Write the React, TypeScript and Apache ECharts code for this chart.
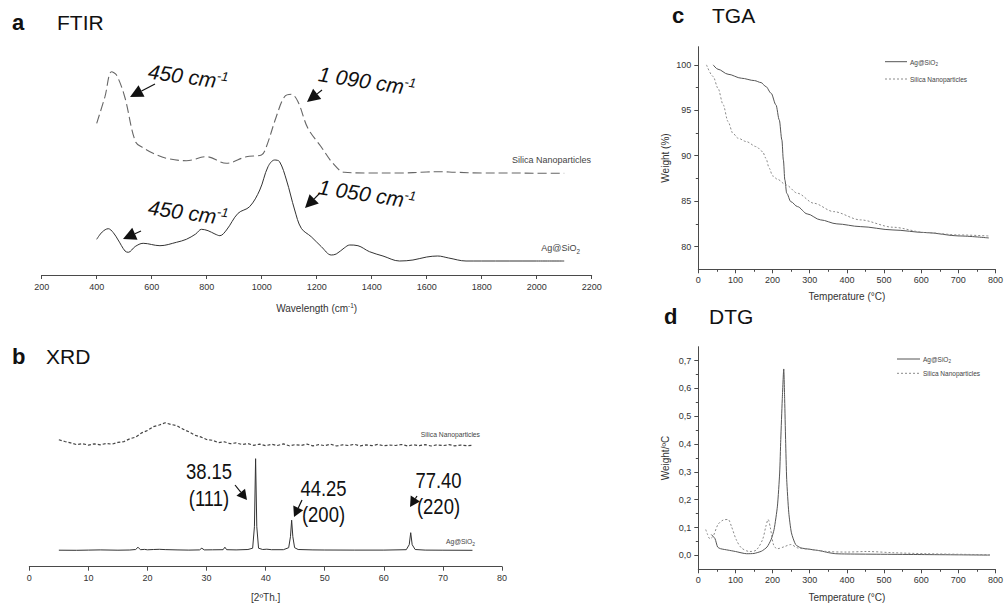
import React, { useEffect, useRef } from 'react';
import * as echarts from 'echarts';

const FONT = '"Liberation Sans", Arial, Helvetica, sans-serif';
const NARROW = '"Liberation Sans Narrow", "Arial Narrow", "Liberation Sans", sans-serif';

// ---------- (a) FTIR (relative transmittance, arbitrary units) ----------
const ftirSilicaWavenumber = [400, 430, 454, 472, 502, 541, 570, 605, 654, 726, 799, 872, 944, 999, 1017, 1053, 1083, 1108, 1132, 1168, 1216, 1259, 1301, 1400, 1500, 1600, 1650, 1700, 1800, 1900, 2000, 2100];
const ftirSilicaSignal = [151.7, 178.3, 203.3, 200, 178, 133.3, 127, 121.7, 116.7, 114.3, 118.3, 111.7, 118.3, 120, 128.3, 158.3, 178.3, 180.7, 173.3, 146.7, 128.3, 111.7, 102.7, 102, 102, 103, 103.3, 102.8, 102, 102, 101.8, 101.7];
const ftirAgWavenumber = [400, 420, 442, 460, 478, 503, 515, 540, 569, 630, 690, 726, 760, 781, 805, 830, 848, 872, 914, 956, 993, 1023, 1047, 1065, 1090, 1120, 1144, 1180, 1217, 1253, 1271, 1300, 1320, 1350, 1392, 1441, 1501, 1550, 1600, 1640, 1680, 1743, 1800, 1900, 2000, 2100];
const ftirAgSignal = [35.7, 43, 46.3, 42.5, 35, 24, 22.7, 28.5, 31.7, 29.3, 32.7, 35.7, 41, 45.7, 44.3, 41, 39.3, 45, 61.7, 68.3, 85, 108.3, 115, 113.3, 95, 65, 46.7, 38.3, 28.3, 20, 21, 27, 30, 29.3, 23.3, 19, 14, 15, 18, 19, 17, 14, 14, 14, 14, 14];

// ---------- (b) XRD (arbitrary counts) ----------
const xrdSilicaAngle = [5, 6, 7, 8, 9, 10, 11, 12, 13, 14, 15, 16, 17, 18, 19, 20, 21, 22, 23, 24, 25, 26, 27, 28, 29, 30, 31, 32, 33, 34, 35, 36, 37, 38, 39, 40, 41, 42, 43, 44, 45, 46, 47, 48, 49, 50, 51, 52, 53, 54, 55, 56, 57, 58, 59, 60, 61, 62, 63, 64, 65, 66, 67, 68, 69, 70, 71, 72, 73, 74, 75];
const xrdSilicaCounts = [127.0, 125.2, 123.8, 122.1, 123.0, 121.6, 122.8, 121.9, 123.2, 122.5, 124.3, 125.1, 127.9, 129.6, 133.8, 136.2, 140.1, 141.7, 143.9, 142.2, 141.0, 137.6, 134.9, 131.5, 129.8, 127.2, 126.4, 124.1, 124.9, 123.0, 123.8, 122.2, 123.1, 121.4, 122.6, 121.0, 122.4, 121.2, 122.8, 120.9, 122.1, 121.3, 122.6, 120.8, 122.0, 121.1, 122.5, 120.7, 121.9, 121.2, 122.4, 120.8, 121.8, 121.0, 122.3, 120.9, 121.7, 121.2, 122.2, 120.8, 121.9, 121.0, 122.1, 120.7, 121.8, 121.1, 122.0, 120.9, 121.6, 121.0, 121.3];
const xrdAgAngle = [5, 8, 10, 12, 15, 17, 18, 18.4, 18.8, 19.5, 20, 21, 22, 23, 25, 27, 28.8, 29.2, 29.6, 31, 32.8, 33.1, 33.4, 35, 37, 37.8, 38.1, 38.3, 38.5, 38.8, 39.5, 40.2, 41, 43, 43.9, 44.2, 44.4, 44.6, 44.9, 45.5, 48, 50, 55, 60, 63.8, 64.3, 64.55, 64.8, 65.3, 67, 70, 75];
const xrdAgCounts = [16.5, 16.4, 16.6, 16.8, 16.5, 16.7, 17.2, 19.5, 17.0, 17.3, 16.9, 17.2, 17.4, 17.1, 16.8, 16.6, 16.8, 18.5, 16.8, 16.9, 17.0, 19.5, 17.0, 16.8, 17.2, 18.5, 40, 108, 40, 18.5, 17.2, 17.5, 17, 17, 19, 30, 46.5, 30, 19, 17.2, 16.8, 16.7, 16.6, 16.6, 17.0, 22, 34, 22, 17.2, 16.6, 16.5, 16.4];

// ---------- (c) TGA ----------
const tgaAgTemp = [40, 53, 80, 116, 151, 169, 182, 196, 209, 218, 225, 229, 233, 238, 249, 267, 293, 329, 373, 436, 524, 613, 702, 782];
const tgaAgWeight = [100, 99.52, 98.97, 98.53, 98.27, 98.05, 97.61, 96.88, 95.6, 93.94, 91.74, 89.54, 87.34, 85.87, 84.95, 84.4, 83.6, 82.94, 82.5, 82.2, 81.83, 81.54, 81.17, 80.95];
const tgaSilicaTemp = [22, 40, 53, 67, 80, 93, 107, 129, 156, 173, 182, 191, 200, 213, 236, 267, 311, 364, 436, 524, 613, 702, 782];
const tgaSilicaWeight = [100, 98.72, 97.43, 95.6, 93.76, 92.48, 91.93, 91.56, 91.0, 90.46, 89.72, 88.62, 87.78, 87.41, 86.79, 85.87, 84.77, 83.85, 82.94, 82.13, 81.54, 81.28, 81.17];
const tgaYLabels = [80, 85, 90, 95, 100];
const tgaYMinor = [82.5, 87.5, 92.5, 97.5];

// ---------- (d) DTG ----------
const dtgAgTemp = [35, 45, 52, 60, 80, 100, 130, 150, 170, 185, 196, 204, 213, 219, 222, 226, 230, 232.5, 235, 238, 243.6, 250.7, 262, 276, 300, 330, 350, 370, 400, 500, 600, 700, 785];
const dtgAgRate = [0.075, 0.06, 0.03, 0.024, 0.019, 0.014, 0.006, 0.007, 0.015, 0.03, 0.057, 0.093, 0.177, 0.296, 0.416, 0.559, 0.67, 0.559, 0.416, 0.272, 0.153, 0.081, 0.039, 0.027, 0.022, 0.016, 0.01, 0.006, 0.005, 0.004, 0.003, 0.002, 0.001];
const dtgSilicaTemp = [20, 25, 31, 40, 53, 67, 80, 89, 102, 116, 138, 156, 173, 182, 188, 194, 203, 213, 231, 249, 267, 302, 347, 400, 453, 524, 613, 700, 785];
const dtgSilicaRate = [0.093, 0.075, 0.06, 0.069, 0.111, 0.127, 0.129, 0.105, 0.057, 0.027, 0.014, 0.019, 0.057, 0.105, 0.129, 0.099, 0.036, 0.024, 0.031, 0.039, 0.027, 0.0215, 0.014, 0.012, 0.014, 0.0096, 0.006, 0.004, 0.0024];
const dtgYLabels = [0, 0.1, 0.2, 0.3, 0.4, 0.5, 0.6, 0.7];
const dtgYMinor = [0.05, 0.15, 0.25, 0.35, 0.45, 0.55, 0.65];

const zip = (xs: number[], ys: number[]) => xs.map((x, i) => [x, ys[i]]);

const AXIS_COLOR = '#4a4a4a';
const LABEL_COLOR = '#333';

function txt(x: number, y: number, text: string, o: any = {}) {
  const align = o.align || 'left';
  const vAlign = o.verticalAlign || 'middle';
  return {
    type: 'text',
    x,
    y,
    rotation: o.rotation || 0,
    scaleX: o.scaleX || 1,
    z: 10,
    style: {
      text,
      fill: o.fill || '#111',
      fontSize: o.fontSize || 10,
      fontFamily: o.fontFamily || FONT,
      fontWeight: o.fontWeight || 'normal',
      fontStyle: o.fontStyle || 'normal',
      lineHeight: o.lineHeight,
      align,
      verticalAlign: vAlign,
      textAlign: align,
      textVerticalAlign: vAlign,
      rich: o.rich,
    },
  };
}

function arrow(x1: number, y1: number, x2: number, y2: number, head = 12, half = 6) {
  const dx = x2 - x1;
  const dy = y2 - y1;
  const L = Math.hypot(dx, dy);
  const ux = dx / L;
  const uy = dy / L;
  const bx = x2 - ux * head;
  const by = y2 - uy * head;
  return [
    { type: 'line', z: 10, shape: { x1, y1, x2: bx, y2: by }, style: { stroke: '#111', lineWidth: 1.2 } },
    {
      type: 'polygon',
      z: 10,
      shape: { points: [[x2, y2], [bx - uy * half, by + ux * half], [bx + uy * half, by - ux * half]] },
      style: { fill: '#111' },
    },
  ];
}

function hline(x1: number, x2: number, y: number, stroke: string, dash?: number[]) {
  return { type: 'line', z: 10, shape: { x1, y1: y, x2, y2: y }, style: { stroke, lineWidth: 1, lineDash: dash } };
}

const subRich = (size: number) => ({
  n: { fontSize: size, fontFamily: FONT, fill: '#444', lineHeight: size + 3 },
  s: { fontSize: size * 0.7, fontFamily: FONT, fill: '#444', lineHeight: size * 0.7, verticalAlign: 'bottom' },
});

const supRich = (size: number, italic = false) => ({
  n: { fontSize: size, fontFamily: FONT, fill: '#111', fontStyle: italic ? 'italic' : 'normal', lineHeight: size + 2 },
  s: { fontSize: size * 0.62, fontFamily: FONT, fill: '#111', fontStyle: italic ? 'italic' : 'normal', lineHeight: size * 0.62, verticalAlign: 'top' },
});

const plain = (v: number) => String(v);

function baseXAxis(gridIndex: number, o: any) {
  return {
    type: 'value',
    gridIndex,
    splitLine: { show: false },
    axisLine: { show: true, onZero: false, lineStyle: { color: AXIS_COLOR, width: 1 } },
    axisTick: { show: true, length: 4, lineStyle: { color: AXIS_COLOR } },
    axisLabel: { fontSize: 9, color: LABEL_COLOR, fontFamily: FONT, margin: 7, formatter: plain },
    nameLocation: 'middle',
    nameTextStyle: { fontSize: 10, color: LABEL_COLOR, fontFamily: FONT },
    ...o,
  };
}

const option: any = {
  animation: false,
  backgroundColor: '#ffffff',
  textStyle: { fontFamily: FONT },
  grid: [
    { left: 41.7, top: 55, width: 550, height: 220 },
    { left: 29.3, top: 406.7, width: 472.7, height: 160 },
    { left: 698.3, top: 46.7, width: 299.2, height: 222.6 },
    { left: 698.3, top: 346.7, width: 299.2, height: 222.6 },
  ],
  xAxis: [
    baseXAxis(0, {
      min: 200,
      max: 2200,
      interval: 200,
      name: '{n|Wavelength (cm}{s|-1}{n|)}',
      nameGap: 27,
      nameTextStyle: {
        color: LABEL_COLOR,
        rich: {
          n: { fontSize: 10, fontFamily: FONT, color: LABEL_COLOR, lineHeight: 12 },
          s: { fontSize: 6.5, fontFamily: FONT, color: LABEL_COLOR, lineHeight: 6.5, verticalAlign: 'top' },
        },
      },
    }),
    baseXAxis(1, {
      min: 0,
      max: 80,
      interval: 10,
      name: '[2ºTh.]',
      nameGap: 26,
      axisLabel: { fontSize: 9, color: LABEL_COLOR, fontFamily: NARROW, margin: 7, formatter: plain },
      nameTextStyle: { fontSize: 10, color: LABEL_COLOR, fontFamily: NARROW },
    }),
    baseXAxis(2, {
      min: 0,
      max: 800,
      interval: 100,
      name: 'Temperature (°C)',
      nameGap: 22,
      axisTick: { show: true, length: 4, lineStyle: { color: AXIS_COLOR } },
      minorTick: { show: true, splitNumber: 2, length: 2.5, lineStyle: { color: AXIS_COLOR } },
      axisLabel: { fontSize: 9, color: LABEL_COLOR, fontFamily: FONT, margin: 6, formatter: plain },
    }),
    baseXAxis(3, {
      min: 0,
      max: 800,
      interval: 100,
      name: 'Temperature (°C)',
      nameGap: 23,
      axisTick: { show: true, length: 4, lineStyle: { color: AXIS_COLOR } },
      minorTick: { show: true, splitNumber: 2, length: 2.5, lineStyle: { color: AXIS_COLOR } },
      axisLabel: { fontSize: 9, color: LABEL_COLOR, fontFamily: FONT, margin: 6, formatter: plain },
    }),
  ],
  yAxis: [
    { type: 'value', gridIndex: 0, min: 0, max: 220, show: false },
    { type: 'value', gridIndex: 1, min: 0, max: 160, show: false },
    {
      type: 'value',
      gridIndex: 2,
      position: 'left',
      min: 77.5,
      max: 102,
      splitLine: { show: false },
      axisLine: { show: true, lineStyle: { color: AXIS_COLOR } },
      axisTick: { show: true, length: 4, customValues: tgaYLabels, lineStyle: { color: AXIS_COLOR } },
      axisLabel: { customValues: tgaYLabels, fontSize: 9, color: LABEL_COLOR, fontFamily: FONT, margin: 7 },
      name: 'Weight (%)',
      nameLocation: 'middle',
      nameRotate: 90,
      nameGap: 28,
      nameTextStyle: { fontSize: 10, color: LABEL_COLOR, fontFamily: FONT },
    },
    {
      type: 'value',
      gridIndex: 2,
      position: 'left',
      min: 77.5,
      max: 102,
      splitLine: { show: false },
      axisLine: { show: false },
      axisTick: { show: true, length: 2.5, customValues: tgaYMinor, lineStyle: { color: AXIS_COLOR } },
      axisLabel: { show: false },
    },
    {
      type: 'value',
      gridIndex: 3,
      position: 'left',
      min: -0.05,
      max: 0.75,
      splitLine: { show: false },
      axisLine: { show: true, lineStyle: { color: AXIS_COLOR } },
      axisTick: { show: true, length: 4, customValues: dtgYLabels, lineStyle: { color: AXIS_COLOR } },
      axisLabel: {
        customValues: dtgYLabels,
        fontSize: 9,
        color: LABEL_COLOR,
        fontFamily: FONT,
        margin: 7,
        formatter: (v: number) => v.toFixed(1).replace('.', ','),
      },
      name: 'Weight/ºC',
      nameLocation: 'middle',
      nameRotate: 90,
      nameGap: 28,
      nameTextStyle: { fontSize: 10, color: LABEL_COLOR, fontFamily: FONT },
    },
    {
      type: 'value',
      gridIndex: 3,
      position: 'left',
      min: -0.05,
      max: 0.75,
      splitLine: { show: false },
      axisLine: { show: false },
      axisTick: { show: true, length: 2.5, customValues: dtgYMinor, lineStyle: { color: AXIS_COLOR } },
      axisLabel: { show: false },
    },
  ],
  series: [
    {
      name: 'Silica Nanoparticles (FTIR)',
      type: 'line',
      xAxisIndex: 0,
      yAxisIndex: 0,
      data: zip(ftirSilicaWavenumber, ftirSilicaSignal),
      showSymbol: false,
      symbol: 'none',
      smooth: 0.35,
      lineStyle: { color: '#666', width: 1.1, type: [9, 4] },
    },
    {
      name: 'Ag@SiO2 (FTIR)',
      type: 'line',
      xAxisIndex: 0,
      yAxisIndex: 0,
      data: zip(ftirAgWavenumber, ftirAgSignal),
      showSymbol: false,
      symbol: 'none',
      smooth: 0.35,
      lineStyle: { color: '#333', width: 1 },
    },
    {
      name: 'Silica Nanoparticles (XRD)',
      type: 'line',
      xAxisIndex: 1,
      yAxisIndex: 1,
      data: zip(xrdSilicaAngle, xrdSilicaCounts),
      showSymbol: false,
      symbol: 'none',
      lineStyle: { color: '#444', width: 1.2, type: [3, 2] },
    },
    {
      name: 'Ag@SiO2 (XRD)',
      type: 'line',
      xAxisIndex: 1,
      yAxisIndex: 1,
      data: zip(xrdAgAngle, xrdAgCounts),
      showSymbol: false,
      symbol: 'none',
      lineStyle: { color: '#333', width: 1 },
    },
    {
      name: 'Ag@SiO2 (TGA)',
      type: 'line',
      xAxisIndex: 2,
      yAxisIndex: 2,
      data: zip(tgaAgTemp, tgaAgWeight),
      showSymbol: false,
      symbol: 'none',
      smooth: 0.3,
      smoothMonotone: 'x',
      lineStyle: { color: '#555', width: 1 },
    },
    {
      name: 'Silica Nanoparticles (TGA)',
      type: 'line',
      xAxisIndex: 2,
      yAxisIndex: 2,
      data: zip(tgaSilicaTemp, tgaSilicaWeight),
      showSymbol: false,
      symbol: 'none',
      smooth: 0.3,
      smoothMonotone: 'x',
      lineStyle: { color: '#8a8a8a', width: 1, type: [2, 2] },
    },
    {
      name: 'Ag@SiO2 (DTG)',
      type: 'line',
      xAxisIndex: 3,
      yAxisIndex: 4,
      data: zip(dtgAgTemp, dtgAgRate),
      showSymbol: false,
      symbol: 'none',
      smooth: 0.2,
      lineStyle: { color: '#555', width: 1 },
    },
    {
      name: 'Silica Nanoparticles (DTG)',
      type: 'line',
      xAxisIndex: 3,
      yAxisIndex: 4,
      data: zip(dtgSilicaTemp, dtgSilicaRate),
      showSymbol: false,
      symbol: 'none',
      smooth: 0.3,
      lineStyle: { color: '#8a8a8a', width: 1, type: [2, 2] },
    },
  ],
  graphic: [
    // panel titles
    txt(12, 22.7, 'a', { fontSize: 22, fontWeight: 'bold' }),
    txt(57, 22.7, 'FTIR', { fontSize: 21 }),
    txt(12, 356.7, 'b', { fontSize: 22, fontWeight: 'bold' }),
    txt(46, 356.7, 'XRD', { fontSize: 21 }),
    txt(672, 15, 'c', { fontSize: 22, fontWeight: 'bold' }),
    txt(712, 15, 'TGA', { fontSize: 21 }),
    txt(664, 316.7, 'd', { fontSize: 22, fontWeight: 'bold' }),
    txt(709, 316.7, 'DTG', { fontSize: 21 }),

    // FTIR annotations
    txt(188, 76.5, '{n|450 cm}{s|-1}', { align: 'center', rotation: -0.136, rich: supRich(21, true) }),
    txt(367, 81, '{n|1 090 cm}{s|-1}', { align: 'center', rotation: -0.15, rich: supRich(21, true) }),
    txt(188, 212.5, '{n|450 cm}{s|-1}', { align: 'center', rotation: -0.136, rich: supRich(21, true) }),
    txt(367, 194, '{n|1 050 cm}{s|-1}', { align: 'center', rotation: -0.15, rich: supRich(21, true) }),
    ...arrow(155, 84, 130, 97, 13, 6.5),
    ...arrow(322, 90, 307, 102, 13, 6.5),
    ...arrow(141, 231, 123, 239, 13, 6.5),
    ...arrow(320, 193, 305, 208, 13, 6.5),
    txt(591, 160, 'Silica Nanoparticles', { align: 'right', fontSize: 9, fill: '#444' }),
    txt(580, 248, '{n|Ag@SiO}{s|2}', { align: 'right', rich: subRich(9) }),

    // XRD annotations
    txt(209, 485, '38.15\n(111)', { align: 'center', fontSize: 22, fontFamily: NARROW, lineHeight: 26.5, scaleX: 0.84 }),
    txt(323.5, 501.5, '44.25\n(200)', { align: 'center', fontSize: 22, fontFamily: NARROW, lineHeight: 26.5, scaleX: 0.84 }),
    txt(438.5, 493.5, '77.40\n(220)', { align: 'center', fontSize: 22, fontFamily: NARROW, lineHeight: 26.5, scaleX: 0.84 }),
    ...arrow(235, 485, 247, 500, 10, 5.5),
    ...arrow(302, 500, 294, 517, 10, 5.5),
    ...arrow(417, 496, 410, 507, 10, 5.5),
    txt(480, 435, 'Silica Nanoparticles', { align: 'right', fontSize: 7.5, fontFamily: NARROW, fill: '#444', scaleX: 0.9 }),
    txt(475, 541.5, '{n|Ag@SiO}{s|2}', {
      align: 'right',
      scaleX: 0.9,
      rich: {
        n: { fontSize: 7.5, fontFamily: NARROW, fill: '#444', lineHeight: 10 },
        s: { fontSize: 5.5, fontFamily: NARROW, fill: '#444', lineHeight: 5.5, verticalAlign: 'bottom' },
      },
    }),

    // TGA legend
    hline(885, 907, 61.7, '#555'),
    txt(910, 62, '{n|Ag@SiO}{s|2}', { rich: subRich(6.5) }),
    hline(885, 907, 79, '#8a8a8a', [2, 2]),
    txt(910, 79, 'Silica Nanoparticles', { fontSize: 6.5, fill: '#444' }),

    // DTG legend
    hline(897, 920, 359, '#555'),
    txt(923, 359.5, '{n|Ag@SiO}{s|2}', { rich: subRich(6.5) }),
    hline(897, 920, 373.3, '#8a8a8a', [2, 2]),
    txt(923, 373.3, 'Silica Nanoparticles', { fontSize: 6.5, fill: '#444' }),
  ],
};

export default function App() {
  const ref = useRef<HTMLDivElement>(null);
  useEffect(() => {
    if (!ref.current) return;
    const chart = echarts.init(ref.current, null, { renderer: 'svg' });
    chart.setOption(option);
    return () => chart.dispose();
  }, []);
  return (
    <div
      ref={ref}
      style={{ position: 'absolute', left: 0, top: 0, width: 1006, height: 608, background: '#fff' }}
    />
  );
}
